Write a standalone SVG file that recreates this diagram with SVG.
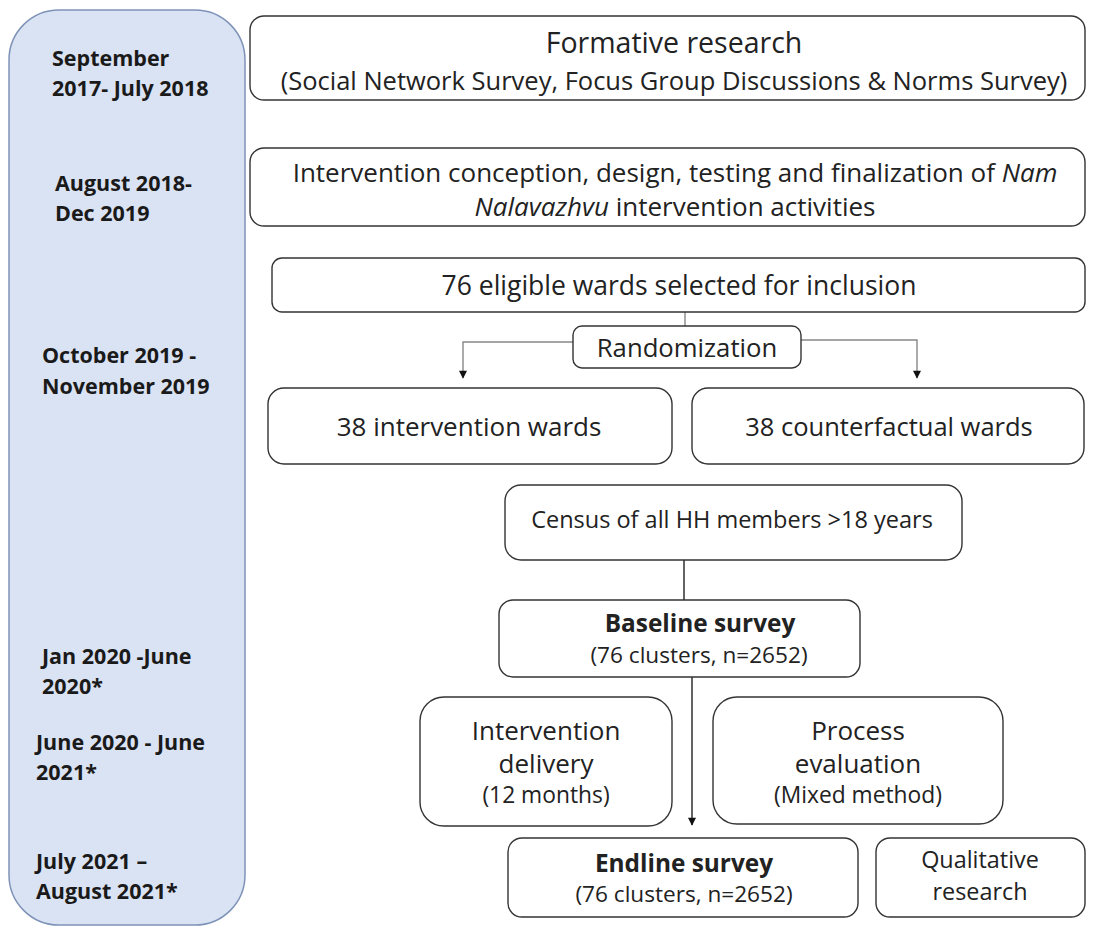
<svg xmlns="http://www.w3.org/2000/svg" width="1094" height="930" viewBox="0 0 1094 930">
<style>
.box{fill:#fff;stroke:#333;stroke-width:1.4}
.t{font-family:"Open Sans","Liberation Sans",sans-serif;fill:#222;text-anchor:middle}
.l{font-family:"Open Sans","Liberation Sans",sans-serif;font-weight:bold;fill:#1a1a1a;font-size:21.5px}
.c{fill:none;stroke:#222;stroke-width:1.4}
.g{fill:none;stroke:#888;stroke-width:1.4}
</style>
<defs>
<marker id="ah" viewBox="0 0 10 10" refX="9" refY="5" markerWidth="10" markerHeight="8" markerUnits="userSpaceOnUse" orient="auto"><path d="M0,0 L10,5 L0,10 z" fill="#111"/></marker>
</defs>
<g id="timeline">
<rect x="9" y="10" width="236" height="915" rx="50" fill="#dae3f3" stroke="#7f93b8" stroke-width="1.5"/>
<text class="l" x="52" y="66">September</text>
<text class="l" x="52" y="96">2017- July 2018</text>
<text class="l" x="55" y="191">August 2018-</text>
<text class="l" x="55" y="221">Dec 2019</text>
<text class="l" x="42" y="363">October 2019 -</text>
<text class="l" x="42" y="394">November 2019</text>
<text class="l" x="42" y="664">Jan 2020 -June</text>
<text class="l" x="42" y="694">2020*</text>
<text class="l" x="36" y="750">June 2020 - June</text>
<text class="l" x="36" y="780">2021*</text>
<text class="l" x="36" y="869">July 2021 –</text>
<text class="l" x="36" y="899">August 2021*</text>
</g>
<g id="connectors">
<line class="g" x1="685" y1="312" x2="685" y2="326"/>
<polyline class="g" points="573,342 463,342 463,378" marker-end="url(#ah)"/>
<polyline class="g" points="801,340 917,340 917,378" marker-end="url(#ah)"/>
<line class="c" x1="684" y1="560" x2="684" y2="600"/>
<line class="c" x1="692" y1="677" x2="692" y2="825" marker-end="url(#ah)"/>
</g>
<g id="formative">
<rect class="box" x="250" y="16" width="835" height="84" rx="14"/>
<text class="t" x="674" y="53" font-size="28.5">Formative research</text>
<text class="t" x="674" y="90" font-size="25.5">(Social Network Survey, Focus Group Discussions &amp; Norms Survey)</text>
</g>
<g id="conception">
<rect class="box" x="250" y="148" width="835" height="78" rx="14"/>
<text class="t" x="675" y="182" font-size="26">Intervention conception, design, testing and finalization of <tspan font-style="italic">Nam</tspan></text>
<text class="t" x="675" y="216" font-size="26"><tspan font-style="italic">Nalavazhvu</tspan> intervention activities</text>
</g>
<g id="eligible">
<rect class="box" x="272" y="258" width="813" height="54" rx="10"/>
<text class="t" x="679" y="295" font-size="26.5">76 eligible wards selected for inclusion</text>
</g>
<g id="randomization">
<rect class="box" x="573" y="326" width="228" height="42" rx="9"/>
<text class="t" x="687" y="357" font-size="25.7">Randomization</text>
</g>
<g id="intervention-wards">
<rect class="box" x="268" y="388" width="404" height="76" rx="16"/>
<text class="t" x="469" y="436" font-size="26">38 intervention wards</text>
</g>
<g id="counterfactual-wards">
<rect class="box" x="692" y="388" width="392" height="76" rx="16"/>
<text class="t" x="889" y="436" font-size="25.5">38 counterfactual wards</text>
</g>
<g id="census">
<rect class="box" x="505" y="485" width="457" height="75" rx="16"/>
<text class="t" x="732" y="528" font-size="23.5">Census of all HH members &gt;18 years</text>
</g>
<g id="baseline">
<rect class="box" x="499" y="600" width="361" height="77" rx="14"/>
<text class="t" x="700" y="632" font-size="24.4" font-weight="bold">Baseline survey</text>
<text class="t" x="699" y="663" font-size="22.6">(76 clusters, n=2652)</text>
</g>
<g id="delivery">
<rect class="box" x="420" y="697" width="252" height="129" rx="24"/>
<text class="t" x="546" y="740" font-size="26">Intervention</text>
<text class="t" x="546" y="773" font-size="26">delivery</text>
<text class="t" x="546" y="803" font-size="22.8">(12 months)</text>
</g>
<g id="process">
<rect class="box" x="713" y="697" width="290" height="127" rx="24"/>
<text class="t" x="858" y="740" font-size="26">Process</text>
<text class="t" x="858" y="773" font-size="26">evaluation</text>
<text class="t" x="858" y="803" font-size="22.8">(Mixed method)</text>
</g>
<g id="endline">
<rect class="box" x="508" y="838" width="350" height="79" rx="14"/>
<text class="t" x="684" y="872" font-size="24.4" font-weight="bold">Endline survey</text>
<text class="t" x="684" y="902" font-size="22.6">(76 clusters, n=2652)</text>
</g>
<g id="qualitative">
<rect class="box" x="876" y="838" width="209" height="79" rx="14"/>
<text class="t" x="980" y="868" font-size="23.4">Qualitative</text>
<text class="t" x="980" y="900" font-size="23.4">research</text>
</g>
</svg>
